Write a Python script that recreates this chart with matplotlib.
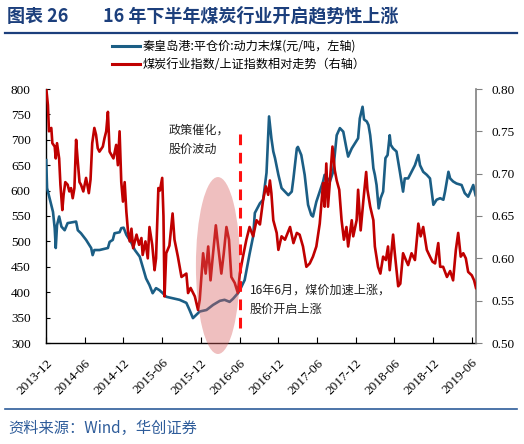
import matplotlib
matplotlib.use('Agg')
import matplotlib.pyplot as plt
import matplotlib.dates as mdates
from matplotlib.patches import Ellipse
from matplotlib.lines import Line2D
import pandas as pd

CJK = ['Noto Sans CJK SC', 'DejaVu Sans']
SERIF = 'Liberation Serif'
TITLE_BLUE = '#1C3F7C'

# ---- data ----
coal_dates = [
    '2013-12-02', '2013-12-06', '2013-12-18', '2014-01-03', '2014-01-11', '2014-01-16',
    '2014-01-22', '2014-02-01', '2014-02-12', '2014-02-27', '2014-03-13', '2014-04-22',
    '2014-04-30', '2014-05-15', '2014-06-08', '2014-07-02', '2014-07-09', '2014-07-17',
    '2014-08-10', '2014-09-19', '2014-09-27', '2014-10-12', '2014-10-20', '2014-11-13',
    '2014-11-21', '2014-12-02', '2014-12-15', '2015-01-08', '2015-01-24', '2015-02-16',
    '2015-03-02', '2015-03-18', '2015-04-03', '2015-04-18', '2015-05-04', '2015-05-20',
    '2015-06-05', '2015-06-21', '2015-08-23', '2015-09-24', '2015-10-09', '2015-10-25',
    '2015-11-26', '2015-12-28', '2016-01-28', '2016-02-29', '2016-03-22', '2016-04-15',
    '2016-05-01', '2016-05-24', '2016-06-02', '2016-06-25', '2016-07-18', '2016-08-04',
    '2016-08-12', '2016-08-27', '2016-09-05', '2016-09-20', '2016-10-06', '2016-10-18',
    '2016-10-29', '2016-11-07', '2016-11-15', '2016-12-01', '2016-12-16', '2017-01-01',
    '2017-01-17', '2017-02-02', '2017-02-10', '2017-02-26', '2017-03-03', '2017-03-19',
    '2017-04-04', '2017-04-20', '2017-05-05', '2017-05-13', '2017-05-29', '2017-06-14',
    '2017-06-30', '2017-07-07', '2017-08-01', '2017-08-16', '2017-09-02', '2017-09-17',
    '2017-10-03', '2017-10-18', '2017-10-26', '2017-11-12', '2017-11-27', '2017-12-12',
    '2017-12-20', '2018-01-02', '2018-01-09', '2018-01-22', '2018-01-30', '2018-02-07',
    '2018-02-15', '2018-02-22', '2018-03-01', '2018-03-09', '2018-03-19', '2018-03-28',
    '2018-04-09', '2018-04-20', '2018-04-30', '2018-05-10', '2018-05-15', '2018-05-26',
    '2018-06-11', '2018-06-27', '2018-07-12', '2018-07-20', '2018-08-05', '2018-08-21',
    '2018-09-06', '2018-09-22', '2018-09-30', '2018-10-15', '2018-11-01', '2018-11-16',
    '2018-11-24', '2018-12-02', '2018-12-17', '2019-01-03', '2019-01-18', '2019-01-26',
    '2019-02-11', '2019-02-19', '2019-03-05', '2019-03-21', '2019-04-14', '2019-04-29',
    '2019-05-15', '2019-05-28', '2019-06-08', '2019-06-19',
]
coal_price = [
    660, 605, 585, 558, 526, 487,
    532, 549, 529, 522, 536, 539,
    522, 516, 503, 487, 473, 483,
    483, 487, 499, 503, 516, 518,
    526, 527, 513, 497, 483, 470,
    450, 427, 414, 398, 408, 404,
    398, 391, 385, 379, 365, 349,
    362, 365, 375, 383, 385, 381,
    387, 398, 404, 424, 475, 510,
    556, 568, 575, 582, 635, 746,
    703, 677, 664, 631, 605, 598,
    591, 598, 624, 683, 686, 670,
    631, 572, 552, 549, 578, 598,
    618, 631, 618, 637, 709, 723,
    716, 683, 667, 683, 693, 703,
    742, 765, 740, 736, 729, 709,
    677, 644, 631, 611, 565, 585,
    598, 664, 670, 709, 690, 683,
    677, 637, 598, 624, 624, 637,
    650, 670, 650, 637, 631, 624,
    598, 572, 582, 585, 582, 598,
    637, 624, 618, 614, 611, 595,
    588, 600, 611, 591,
]

ratio_dates = [
    '2013-12-02', '2013-12-10', '2013-12-15', '2013-12-26', '2013-12-31', '2014-01-11',
    '2014-01-16', '2014-01-22', '2014-02-01', '2014-02-07', '2014-02-16', '2014-02-22',
    '2014-03-02', '2014-03-13', '2014-03-21', '2014-03-29', '2014-04-06', '2014-04-14',
    '2014-04-22', '2014-04-30', '2014-05-08', '2014-05-15', '2014-05-26', '2014-06-08',
    '2014-06-21', '2014-06-29', '2014-07-07', '2014-07-17', '2014-07-25', '2014-08-02',
    '2014-08-10', '2014-08-26', '2014-09-03', '2014-09-11', '2014-09-19', '2014-09-27',
    '2014-10-15', '2014-10-28', '2014-11-05', '2014-11-13', '2014-11-21', '2014-11-29',
    '2014-12-07', '2014-12-15', '2014-12-23', '2014-12-31', '2015-01-08', '2015-01-16',
    '2015-02-01', '2015-02-13', '2015-02-24', '2015-03-02', '2015-03-15', '2015-03-26',
    '2015-04-03', '2015-04-16', '2015-04-27', '2015-05-04', '2015-05-15', '2015-05-22',
    '2015-06-02', '2015-06-08', '2015-06-13', '2015-06-21', '2015-07-06', '2015-07-21',
    '2015-07-30', '2015-08-15', '2015-09-01', '2015-09-24', '2015-10-02', '2015-10-14',
    '2015-11-03', '2015-11-18', '2015-11-26', '2015-12-12', '2015-12-24', '2016-01-05',
    '2016-01-16', '2016-01-28', '2016-02-10', '2016-02-21', '2016-03-07', '2016-03-18',
    '2016-03-31', '2016-04-12', '2016-04-23', '2016-05-09', '2016-05-24', '2016-06-02',
    '2016-06-17', '2016-07-03', '2016-07-18', '2016-08-04', '2016-08-20', '2016-09-05',
    '2016-09-20', '2016-10-03', '2016-10-14', '2016-10-22', '2016-10-29', '2016-11-07',
    '2016-11-23', '2016-12-01', '2016-12-16', '2017-01-01', '2017-01-25', '2017-02-10',
    '2017-02-26', '2017-03-11', '2017-03-27', '2017-04-12', '2017-04-28', '2017-05-13',
    '2017-05-29', '2017-06-14', '2017-06-22', '2017-06-30', '2017-07-07', '2017-07-15',
    '2017-07-23', '2017-08-01', '2017-08-13', '2017-08-24', '2017-09-02', '2017-09-14',
    '2017-09-25', '2017-10-06', '2017-10-18', '2017-10-26', '2017-11-12', '2017-11-19',
    '2017-12-05', '2017-12-12', '2017-12-24', '2018-01-06', '2018-01-19', '2018-01-25',
    '2018-02-07', '2018-02-22', '2018-03-01', '2018-03-16', '2018-03-27', '2018-04-09',
    '2018-04-22', '2018-05-02', '2018-05-10', '2018-05-26', '2018-06-03', '2018-06-19',
    '2018-06-29', '2018-07-12', '2018-07-22', '2018-08-05', '2018-08-21', '2018-09-06',
    '2018-09-22', '2018-10-03', '2018-10-15', '2018-11-01', '2018-11-16', '2018-11-28',
    '2018-12-10', '2018-12-25', '2019-01-03', '2019-01-17', '2019-02-04', '2019-02-19',
    '2019-03-05', '2019-03-18', '2019-03-29', '2019-04-10', '2019-04-22', '2019-05-04',
    '2019-05-15', '2019-06-01', '2019-06-12', '2019-06-21',
]
ratio_vals = [
    0.801, 0.781, 0.750, 0.754, 0.736, 0.732,
    0.718, 0.736, 0.718, 0.687, 0.657, 0.675,
    0.690, 0.687, 0.679, 0.683, 0.671, 0.683,
    0.740, 0.714, 0.690, 0.687, 0.679, 0.695,
    0.677, 0.693, 0.736, 0.754, 0.746, 0.730,
    0.726, 0.732, 0.742, 0.750, 0.773, 0.726,
    0.718, 0.734, 0.710, 0.750, 0.690, 0.667,
    0.690, 0.655, 0.631, 0.620, 0.635, 0.612,
    0.628, 0.616, 0.624, 0.604, 0.620, 0.600,
    0.637, 0.616, 0.586, 0.600, 0.683, 0.680,
    0.695, 0.650, 0.555, 0.606, 0.615, 0.653,
    0.622, 0.602, 0.578, 0.582, 0.559, 0.565,
    0.555, 0.539, 0.551, 0.606, 0.582, 0.614,
    0.574, 0.606, 0.639, 0.614, 0.582, 0.605,
    0.637, 0.622, 0.578, 0.571, 0.559, 0.582,
    0.602, 0.622, 0.637, 0.626, 0.645, 0.640,
    0.669, 0.685, 0.675, 0.692, 0.677, 0.645,
    0.630, 0.610, 0.626, 0.622, 0.637, 0.618,
    0.630, 0.628, 0.614, 0.590, 0.594, 0.602,
    0.614, 0.641, 0.665, 0.689, 0.661, 0.712,
    0.661, 0.692, 0.732, 0.704, 0.692, 0.681,
    0.645, 0.622, 0.637, 0.614, 0.645, 0.626,
    0.645, 0.681, 0.633, 0.669, 0.702, 0.681,
    0.661, 0.645, 0.614, 0.590, 0.582, 0.602,
    0.598, 0.614, 0.586, 0.628, 0.606, 0.567,
    0.570, 0.606, 0.600, 0.592, 0.606, 0.598,
    0.641, 0.626, 0.637, 0.610, 0.602, 0.596,
    0.594, 0.618, 0.590, 0.590, 0.578, 0.585,
    0.574, 0.610, 0.630, 0.602, 0.606, 0.600,
    0.584, 0.580, 0.574, 0.565,
]

coal_label = '秦皇岛港:平仓价:动力末煤(元/吨，左轴)'
ratio_label = '煤炭行业指数/上证指数相对走势（右轴）'
tick_dates = pd.date_range('2013-12-01', '2019-06-01', freq='6MS')

coal_x = pd.to_datetime(coal_dates)
ratio_x = pd.to_datetime(ratio_dates)

BLUE = '#1B5E85'
RED = '#C00000'

fig = plt.figure(figsize=(5.24, 4.44), dpi=100)
ax = fig.add_axes([46 / 524, 101 / 444, 430 / 524, 254 / 444])
ax2 = ax.twinx()

ax.plot(coal_x, coal_price, color=BLUE, lw=1.9, zorder=3)
ax2.plot(ratio_x, ratio_vals, color=RED, lw=1.9, zorder=3)

ax.set_xlim(pd.Timestamp('2013-12-01'), pd.Timestamp('2019-06-21'))
ax.set_ylim(300, 800)
ax2.set_ylim(0.50, 0.80)
ax.set_yticks(range(300, 801, 50))
ax2.set_yticks([0.50, 0.55, 0.60, 0.65, 0.70, 0.75, 0.80])
ax2.set_yticklabels([f'{v:.2f}' for v in ax2.get_yticks()])

ax.set_xticks(tick_dates)
ax.set_xticklabels([d.strftime('%Y-%m') for d in tick_dates], rotation=45,
                   ha='right', va='top', rotation_mode='anchor')

for a in (ax, ax2):
    a.spines['top'].set_visible(False)
ax.spines['right'].set_visible(False)
ax2.spines['left'].set_visible(False)
ax2.spines['bottom'].set_visible(False)
ax2.spines['right'].set_color('#808080')
ax2.spines['right'].set_linewidth(1.2)
ax.spines['left'].set_linewidth(1.0)
ax.spines['bottom'].set_linewidth(1.0)

ax.tick_params(axis='y', direction='in', length=3, pad=11, labelsize=9.5)
ax.tick_params(axis='x', direction='in', length=4, pad=10, labelsize=9.5)
ax2.tick_params(axis='y', direction='out', length=4, pad=7, labelsize=9.5,
                color='#808080')
for lab in ax.get_xticklabels() + ax.get_yticklabels() + ax2.get_yticklabels():
    lab.set_fontfamily(SERIF)

# highlighted period and June 2016 marker
ell = Ellipse((mdates.date2num(pd.Timestamp('2016-02-20')), 0.5915),
              width=208, height=0.209, facecolor='#D95F5F', alpha=0.4,
              edgecolor='none', zorder=5, clip_on=False)
ax2.add_patch(ell)
ax2.plot([pd.Timestamp('2016-06-01')] * 2, [0.5177, 0.755], color='#FF1010',
         lw=2.2, ls=(0, (3.5, 2.5)), zorder=6)

ax2.text(pd.Timestamp('2015-07-01'), 0.740, '政策催化，\n股价波动', family=CJK,
         fontsize=8.7, va='center', ha='left', linespacing=1.6, color='#222222')
ax2.text(pd.Timestamp('2016-07-18'), 0.551, '16年6月，煤价加速上涨，\n股价开启上涨',
         family=CJK, fontsize=8.7, va='center', ha='left', linespacing=1.6,
         color='#222222')

# legend
handles = [Line2D([], [], color=BLUE, lw=2.2), Line2D([], [], color=RED, lw=2.2)]
fig.legend(handles, [coal_label, ratio_label], loc='upper left',
           bbox_to_anchor=(112 / 524, 1 - 40 / 444), frameon=False,
           prop={'family': CJK, 'size': 8.7}, handlelength=2.3,
           handletextpad=0.2, labelspacing=0.45, borderaxespad=0, borderpad=0)

# header and footer
fig.text(7 / 524, 1 - 16 / 444, '图表 26', family=CJK, fontweight='bold',
         fontsize=13, color=TITLE_BLUE, va='center', ha='left')
fig.text(103 / 524, 1 - 16 / 444, '16 年下半年煤炭行业开启趋势性上涨', family=CJK,
         fontweight='bold', fontsize=13, color=TITLE_BLUE, va='center', ha='left')
fig.add_artist(Line2D([5 / 524, 517 / 524], [1 - 33 / 444] * 2, color=TITLE_BLUE,
                      lw=1.6))
fig.add_artist(Line2D([5 / 524, 517 / 524], [1 - 409 / 444] * 2, color='#2E5C9A',
                      lw=1.2))
fig.text(8 / 524, 1 - 428 / 444, '资料来源：Wind，华创证券', family=CJK,
         fontsize=11, color='#2E5C9A', va='center', ha='left', style='italic')

fig.savefig('out.png', dpi=100)
